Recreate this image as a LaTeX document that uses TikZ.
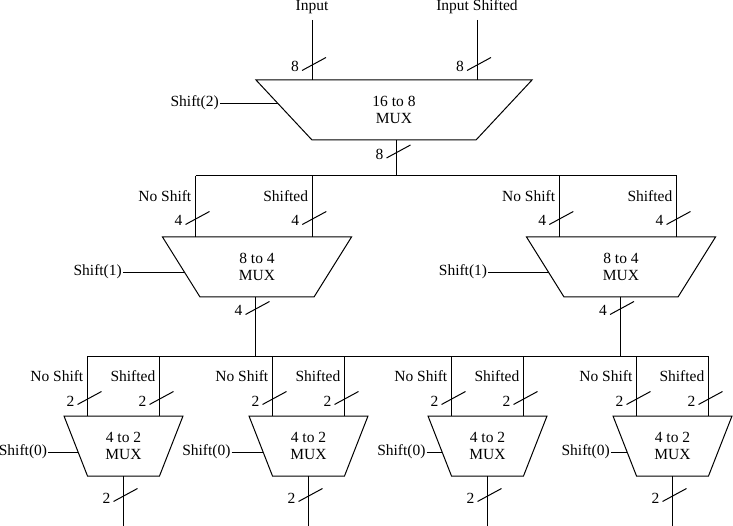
\documentclass[tikz,border=0pt]{standalone}
\usepackage{fontspec}
\setmainfont{Liberation Serif}
\usetikzlibrary{calc}

% Trapezoidal multiplexer: name, centre x, centre y, top half-width,
% bottom half-width, half-height, caption
\newcommand\muxblock[7]{%
  \coordinate (#1-tl) at ({#2-#4},{#3-#6});
  \coordinate (#1-tr) at ({#2+#4},{#3-#6});
  \coordinate (#1-br) at ({#2+#5},{#3+#6});
  \coordinate (#1-bl) at ({#2-#5},{#3+#6});
  \draw[wire] (#1-tl) -- (#1-tr) -- (#1-br) -- (#1-bl) -- cycle;
  \node[muxtext] (#1) at (#2,#3) {#7};
}

% Bus-width tick: name, x, y, width label
\newcommand\buswidth[4]{%
  \coordinate (#1) at (#2,#3);
  \draw[wire] ($(#1)+(-10,5.5)$) -- ($(#1)+(14,-7.5)$);
  \node[lbl, anchor=base east] (#1-w) at ($(#1)+(-13,7)$) {#4};
}

% Select input: name, mux name, fraction down the left edge, start x, label
\newcommand\selline[5]{%
  \coordinate (#2-sel) at ($(#2-tl)!#3!(#2-bl)$);
  \coordinate (#1-x) at (#4,0);
  \coordinate (#1) at (#2-sel -| #1-x);
  \draw[wire] (#1) -- (#2-sel);
  \node[lbl, anchor=base east] (#1-t) at ($(#1)+(-1,3)$) {#5};
}

\begin{document}
\begin{tikzpicture}[x=1pt,y=-1pt,
  wire/.style={line width=1pt},
  lbl/.style={inner sep=0pt, font=\fontsize{15.5}{18}\selectfont},
  muxtext/.style={inner sep=0pt, align=center, font=\fontsize{15.5}{17.6}\selectfont}]
\useasboundingbox (0,0) rectangle (733,526);
\fill[white] (0,0) rectangle (733,526);

% ---------------- stage 2: 16 to 8 ----------------
\muxblock{m0}{394}{110}{138}{82}{30}{16 to 8\\MUX}
\coordinate (in0) at (312,20);
\coordinate (in1) at (477,20);
\node[lbl, anchor=base] (in0-t) at (312,11) {Input};
\node[lbl, anchor=base] (in1-t) at (477,11) {Input Shifted};
\draw[wire] (in0) -- (in0 |- m0-tl);
\draw[wire] (in1) -- (in1 |- m0-tl);
\buswidth{w-in0}{312}{65}{8}
\buswidth{w-in1}{477}{65}{8}
\selline{s2}{m0}{0.4}{220}{Shift(2)}
\coordinate (m0-out) at (396.5,140);
\coordinate (b1) at (396.5,176);
\draw[wire] (m0-out) -- (b1);
\buswidth{w-m0}{396.5}{152.5}{8}

% ---------------- stage 1: 8 to 4 ----------------
\muxblock{m1a}{257}{267}{94.5}{57}{30}{8 to 4\\MUX}
\muxblock{m1b}{621}{267}{94.5}{57}{30}{8 to 4\\MUX}
\coordinate (m1a-i0) at (195.5,176);
\coordinate (m1a-i1) at (312.3,176);
\coordinate (m1b-i0) at (559.3,176);
\coordinate (m1b-i1) at (676.5,176);
\draw[wire] (m1a-i0) -- (m1b-i1);
\foreach \p in {m1a-i0,m1a-i1}{\draw[wire] (\p) -- (\p |- m1a-tl);}
\foreach \p in {m1b-i0,m1b-i1}{\draw[wire] (\p) -- (\p |- m1b-tl);}
\foreach \p/\t in {m1a-i0/No Shift,m1a-i1/Shifted,m1b-i0/No Shift,m1b-i1/Shifted}{
  \node[lbl, anchor=base east] (\p-t) at ($(\p |- 0,202)+(-4,0)$) {\t};
}
\buswidth{w-m1a0}{195.5}{219}{4}
\buswidth{w-m1a1}{312.3}{219}{4}
\buswidth{w-m1b0}{559.3}{219}{4}
\buswidth{w-m1b1}{676.5}{219}{4}
\selline{s1a}{m1a}{0.6}{123}{Shift(1)}
\selline{s1b}{m1b}{0.6}{488.3}{Shift(1)}
\coordinate (m1a-out) at (255.5,297);
\coordinate (m1b-out) at (620,297);
\coordinate (b2-l) at (87.5,356);
\coordinate (b2-r) at (708.5,356);
\draw[wire] (m1a-out) -- (m1a-out |- b2-l);
\draw[wire] (m1b-out) -- (m1b-out |- b2-l);
\buswidth{w-m1a}{255.5}{309}{4}
\buswidth{w-m1b}{620}{309}{4}
\draw[wire] (b2-l) -- (b2-r);

% ---------------- stage 0: 4 to 2 ----------------
\foreach \n/\cx/\sx in {a/123.5/48.3, b/308.5/231.7, c/487.5/426.7, d/672.5/611}{
  \muxblock{m2\n}{\cx}{446}{59.5}{36}{30}{4 to 2\\MUX}
  \coordinate (m2\n-i0) at ({\cx-36},356);
  \coordinate (m2\n-i1) at ({\cx+36},356);
  \draw[wire] (m2\n-i0) -- (m2\n-i0 |- m2\n-tl);
  \draw[wire] (m2\n-i1) -- (m2\n-i1 |- m2\n-tl);
  \node[lbl, anchor=base east] (m2\n-i0-t) at ($(m2\n-i0 |- 0,381)+(-4,0)$) {No Shift};
  \node[lbl, anchor=base east] (m2\n-i1-t) at ($(m2\n-i1 |- 0,381)+(-4,0)$) {Shifted};
  \buswidth{w-m2\n0}{\cx-36}{399}{2}
  \buswidth{w-m2\n1}{\cx+36}{399}{2}
  \selline{s0\n}{m2\n}{0.6}{\sx}{Shift(0)}
  \coordinate (m2\n-out) at (\cx,476);
  \coordinate (o\n) at (\cx,526);
  \draw[wire] (m2\n-out) -- (o\n);
  \buswidth{w-m2\n}{\cx}{496}{2}
}
\end{tikzpicture}
\end{document}
